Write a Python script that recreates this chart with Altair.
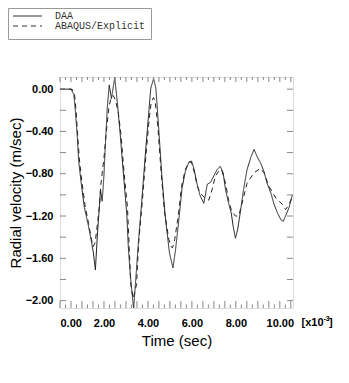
import altair as alt
import pandas as pd

# DAA (solid)
daa_t = [0, 0.5, 0.63, 0.70, 0.78, 0.85, 0.97, 1.11, 1.28, 1.43, 1.52, 1.61, 1.70, 1.79, 1.84, 1.92,
         2.00, 2.07, 2.15, 2.24, 2.34, 2.49, 2.62, 2.74, 2.89, 3.04, 3.11, 3.20, 3.35, 3.46, 3.57, 3.72,
         3.87, 4.03, 4.13, 4.26, 4.36, 4.48, 4.63, 4.78, 4.98, 5.14, 5.25, 5.40, 5.55, 5.70, 5.86, 5.98,
         6.09, 6.24, 6.36, 6.54, 6.70, 6.85, 7.00, 7.15, 7.29, 7.42, 7.53, 7.67, 7.79, 7.88, 7.98, 8.08,
         8.20, 8.35, 8.51, 8.69, 8.83, 8.97, 9.13, 9.28, 9.42, 9.59, 9.74, 9.89, 10.05, 10.16, 10.26,
         10.42, 10.57]
daa_v = [0, 0, -0.05, -0.21, -0.43, -0.68, -0.90, -1.12, -1.28, -1.44, -1.55, -1.71, -1.38, -1.12, -0.95, -1.06,
         -0.81, -0.50, -0.18, 0.04, -0.09, 0.11, -0.15, -0.43, -0.81, -1.19, -1.50, -1.76, -2.08, -1.76, -1.44, -1.06,
         -0.65, -0.24, 0.01, 0.10, 0.01, -0.34, -0.81, -1.19, -1.55, -1.69, -1.53, -1.25, -0.94, -0.78, -0.69, -0.68,
         -0.75, -0.90, -1.00, -1.08, -0.90, -0.88, -0.82, -0.76, -0.73, -0.79, -0.95, -1.08, -1.17, -1.30, -1.41, -1.33,
         -1.17, -0.95, -0.76, -0.64, -0.57, -0.64, -0.70, -0.78, -0.89, -0.98, -1.09, -1.17, -1.235, -1.25, -1.20,
         -1.12, -1.00]

# ABAQUS/Explicit (dashed)
abq_t = [0, 0.55, 0.66, 0.73, 0.80, 0.88, 1.00, 1.14, 1.30, 1.43, 1.51, 1.60, 1.70, 1.80, 1.86, 2.00,
         2.11, 2.22, 2.31, 2.42, 2.52, 2.65, 2.77, 2.92, 3.07, 3.15, 3.22, 3.26, 3.33, 3.42, 3.48, 3.58,
         3.75, 3.90, 4.05, 4.15, 4.26, 4.33, 4.45, 4.60, 4.75, 4.95, 5.05, 5.12, 5.22, 5.38, 5.53, 5.70,
         5.86, 5.98, 6.10, 6.25, 6.40, 6.60, 6.77, 6.92, 7.06, 7.20, 7.35, 7.53, 7.67, 7.82, 7.98, 8.13,
         8.28, 8.51, 8.83, 9.12, 9.28, 9.51, 9.82, 10.12, 10.26, 10.42, 10.57]
abq_v = [0, 0, -0.05, -0.20, -0.42, -0.66, -0.88, -1.10, -1.27, -1.42, -1.49, -1.45, -1.28, -1.09, -0.90, -0.65,
         -0.40, -0.18, -0.09, -0.06, -0.10, -0.22, -0.42, -0.80, -1.12, -1.50, -1.85, -1.90, -1.98, -1.90, -1.85, -1.45,
         -1.05, -0.65, -0.30, -0.12, -0.08, -0.12, -0.35, -0.78, -1.15, -1.42, -1.49, -1.50, -1.42, -1.20, -0.92, -0.76,
         -0.69, -0.69, -0.78, -0.92, -0.99, -1.03, -1.05, -0.95, -0.83, -0.78, -0.76, -0.89, -1.05, -1.16, -1.20, -1.20,
         -1.08, -0.89, -0.79, -0.75, -0.79, -0.92, -1.03, -1.09, -1.14, -1.09, -1.015]

x_labels = [0, 2, 4, 6, 8, 10]
y_labels = [0.0, -0.4, -0.8, -1.2, -1.6, -2.0]
x_ticks_long = [0, 0.5, 1, 1.5, 2, 2.5, 3, 3.5, 4, 4.5, 5, 5.5, 6, 6.5, 7, 7.5, 8, 8.5, 9, 9.5, 10, 10.5]
x_ticks_short = [0.25, 0.75, 1.25, 1.75, 2.25, 2.75, 3.25, 3.75, 4.25, 4.75, 5.25, 5.75, 6.25, 6.75,
                 7.25, 7.75, 8.25, 8.75, 9.25, 9.75, 10.25]
y_ticks = [0.0, -0.2, -0.4, -0.6, -0.8, -1.0, -1.2, -1.4, -1.6, -1.8, -2.0]
series_names = ["DAA", "ABAQUS/Explicit"]

W, H = 233, 231
xscale = alt.Scale(domain=[0, 10.6], nice=False, zero=False)
yscale = alt.Scale(domain=[-2.07, 0.115], nice=False, zero=False)

xaxis = alt.Axis(values=x_labels, format=".2f", title="Time (sec)", labelFontWeight="bold",
                 labelFontSize=11, labelPadding=9, titleFontSize=15, titleFontWeight="normal",
                 titlePadding=5, labelFont="Liberation Sans", titleFont="Liberation Sans",
                 ticks=False, domain=False, grid=False, labelColor="#000", titleColor="#000")
yaxis = alt.Axis(values=y_labels, format=".2f", title="Radial velocity (m/sec)", labelFontWeight="bold",
                 labelFontSize=11, labelPadding=7, titleFontSize=15, titleFontWeight="normal",
                 titlePadding=2, labelFont="Liberation Sans", titleFont="Liberation Sans",
                 ticks=False, domain=False, grid=False, labelColor="#000", titleColor="#000")

df = pd.concat([
    pd.DataFrame({"t": daa_t, "v": daa_v, "s": series_names[0]}),
    pd.DataFrame({"t": abq_t, "v": abq_v, "s": series_names[1]}),
])

lines = alt.Chart(df).mark_line(strokeWidth=1, color="#222", clip=True).encode(
    x=alt.X("t:Q", scale=xscale, axis=xaxis),
    y=alt.Y("v:Q", scale=yscale, axis=yaxis),
    strokeDash=alt.StrokeDash("s:N", scale=alt.Scale(domain=series_names, range=[[1, 0], [5, 4]]), legend=None),
    detail="s:N",
)

tick_color = "#888"
xl = pd.DataFrame({"t": x_ticks_long})
xs = pd.DataFrame({"t": x_ticks_short})
yt = pd.DataFrame({"v": y_ticks})

def xt(data, y0, y1):
    return alt.Chart(data).mark_rule(color=tick_color, strokeWidth=1).encode(
        x=alt.X("t:Q", scale=xscale, axis=xaxis), y=alt.value(y0), y2=alt.value(y1))

def ytk(x0, x1):
    return alt.Chart(yt).mark_rule(color=tick_color, strokeWidth=1).encode(
        y=alt.Y("v:Q", scale=yscale, axis=yaxis), x=alt.value(x0), x2=alt.value(x1))

ticks = [xt(xl, H, H - 7), xt(xs, H, H - 3.5), xt(xl, 0, 5), xt(xs, 0, 3),
         ytk(0, 6), ytk(W, W - 6)]

one = pd.DataFrame({"a": [0]})
leg_box = alt.Chart(one).mark_rect(fill="white", stroke="#999", strokeWidth=1).encode(
    x=alt.value(-51.5), x2=alt.value(91.5), y=alt.value(-68.5), y2=alt.value(-37.5))
leg_l1 = alt.Chart(one).mark_rule(color="#333", strokeWidth=1).encode(
    x=alt.value(-47), x2=alt.value(-18), y=alt.value(-61))
leg_l2 = alt.Chart(one).mark_rule(color="#333", strokeWidth=1, strokeDash=[5, 4]).encode(
    x=alt.value(-47), x2=alt.value(-18), y=alt.value(-51))
leg_names = pd.DataFrame({"name": series_names, "yy": [-61, -51]})
leg_txt = alt.Chart(leg_names).mark_text(align="left", baseline="middle", font="Liberation Mono",
                                          fontSize=10, color="#333").encode(
    x=alt.value(-5), y=alt.Y("yy:Q", scale=None), text="name:N")

exp_main = alt.Chart(one).mark_text(align="left", baseline="middle", font="Liberation Sans",
                                     fontSize=11, fontWeight="bold", color="#000").encode(
    x=alt.value(241.5), y=alt.value(246), text=alt.value("[x10"))
exp_sup = alt.Chart(one).mark_text(align="left", baseline="middle", font="Liberation Sans",
                                    fontSize=7, fontWeight="bold", color="#000").encode(
    x=alt.value(263.5), y=alt.value(241.5), text=alt.value("-3"))
exp_end = alt.Chart(one).mark_text(align="left", baseline="middle", font="Liberation Sans",
                                    fontSize=11, fontWeight="bold", color="#000").encode(
    x=alt.value(269), y=alt.value(246), text=alt.value("]"))

chart = alt.layer(lines, *ticks, leg_box, leg_l1, leg_l2, leg_txt, exp_main, exp_sup, exp_end).properties(
    width=W, height=H,
    autosize=alt.AutoSizeParams(type="none"),
    padding={"left": 52, "top": 69, "right": 46, "bottom": 60},
).configure_view(stroke="#808080", strokeWidth=1).configure(background="white")

chart.save("out.html", embed_options={"renderer": "svg", "actions": False})
